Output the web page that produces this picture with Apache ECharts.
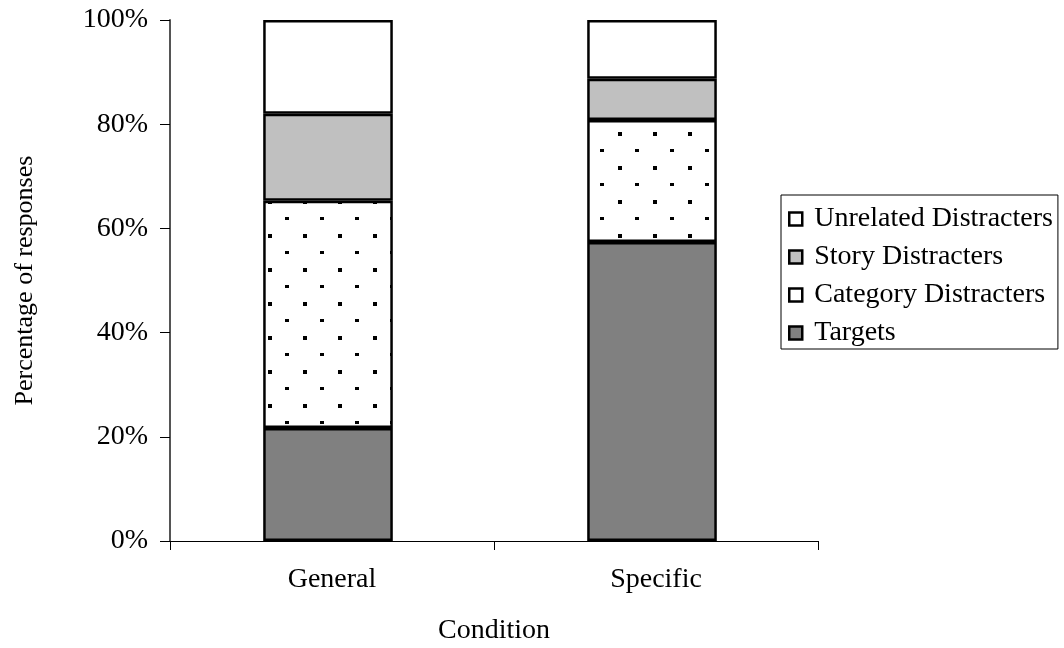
<!DOCTYPE html>
<html><head><meta charset="utf-8">
<script src="https://cdn.jsdelivr.net/npm/echarts@6/dist/echarts.min.js"></script>
<style>html,body{margin:0;padding:0;background:#fff}#c{width:1064px;height:648px}</style>
</head><body><div id="c"></div>
<script>
const categories = ['General', 'Specific'];
const targets = [21.7, 57.4];
const categoryDistracters = [43.6, 23.4];
const storyDistracters = [16.7, 7.9];
const unrelatedDistracters = [18.0, 11.3];
const yTicks = ['0%', '20%', '40%', '60%', '80%', '100%'];

function dotPattern() {
  const c = document.createElement('canvas');
  c.width = 35; c.height = 34;
  const g = c.getContext('2d');
  g.fillStyle = '#fff'; g.fillRect(0, 0, 35, 34);
  g.fillStyle = '#000';
  g.fillRect(23, 30, 4, 4);
  g.fillRect(5, 13, 4, 3);
  return c;
}
const pat = { image: dotPattern(), repeat: 'repeat' };
const font = 'Liberation Serif';
const chart = echarts.init(document.getElementById('c'), null, { renderer: 'canvas' });
const border = { borderColor: '#000', borderWidth: 2.5 };
chart.setOption({
  animation: false,
  textStyle: { fontFamily: font },
  grid: [
    { left: 170, top: 20, width: 648, height: 521, outerBoundsMode: 'none' },
    { left: 166, top: 20, width: 648, height: 521, outerBoundsMode: 'none' }
  ],
  legend: {
    orient: 'vertical', left: 781, top: 195,
    padding: [10, 5, 2, 7], itemGap: 10,
    borderColor: '#000', borderWidth: 1,
    itemWidth: 13, itemHeight: 13, icon: 'rect',
    textStyle: { fontFamily: font, fontSize: 28, color: '#000', padding: [0, 0, 0, 7] },
    data: [
      { name: 'Unrelated Distracters', itemStyle: { color: '#fff', borderColor: '#000', borderWidth: 2.5 } },
      { name: 'Story Distracters', itemStyle: { color: '#c0c0c0', borderColor: '#000', borderWidth: 2.5 } },
      { name: 'Category Distracters', itemStyle: { color: '#fff', borderColor: '#000', borderWidth: 2.5 } },
      { name: 'Targets', itemStyle: { color: '#808080', borderColor: '#000', borderWidth: 2.5 } }
    ]
  },
  xAxis: [{
    type: 'category', data: categories, gridIndex: 0,
    name: 'Condition', nameLocation: 'middle', nameGap: 76,
    nameTextStyle: { fontFamily: font, fontSize: 28, color: '#000' },
    axisLine: { lineStyle: { color: '#000', width: 1 } },
    axisTick: { show: true, length: 9, lineStyle: { color: '#000' } },
    axisLabel: { fontFamily: font, fontSize: 28, color: '#000', margin: 25 }
  }, {
    type: 'category', data: categories, gridIndex: 1, show: false
  }],
  yAxis: [{
    type: 'value', min: 0, max: 100, interval: 20, gridIndex: 0,
    name: 'Percentage of responses', nameLocation: 'middle', nameGap: 132, nameRotate: 90,
    nameTextStyle: { fontFamily: font, fontSize: 26, color: '#000' },
    axisLine: { show: true, lineStyle: { color: '#555', width: 2 } },
    axisTick: { show: true, length: 10, lineStyle: { color: '#000' } },
    splitLine: { show: false },
    axisLabel: { fontFamily: font, fontSize: 28, color: '#000', margin: 22,
      formatter: v => yTicks[Math.round(v / 20)] }
  }, {
    type: 'value', min: 0, max: 100, interval: 20, gridIndex: 1, show: false,
    splitLine: { show: false }
  }],
  series: [
    { name: 'Targets', type: 'bar', stack: 's', barWidth: '40%', data: targets, xAxisIndex: 1, yAxisIndex: 1,
      itemStyle: Object.assign({ color: '#808080' }, border) },
    { name: 'Category Distracters', type: 'bar', stack: 's', data: categoryDistracters, xAxisIndex: 1, yAxisIndex: 1,
      itemStyle: Object.assign({ color: pat }, border) },
    { name: 'Story Distracters', type: 'bar', stack: 's', data: storyDistracters, xAxisIndex: 1, yAxisIndex: 1,
      itemStyle: Object.assign({ color: '#c0c0c0' }, border) },
    { name: 'Unrelated Distracters', type: 'bar', stack: 's', data: unrelatedDistracters, xAxisIndex: 1, yAxisIndex: 1,
      itemStyle: Object.assign({ color: '#fff' }, border) }
  ]
});
</script></body></html>
